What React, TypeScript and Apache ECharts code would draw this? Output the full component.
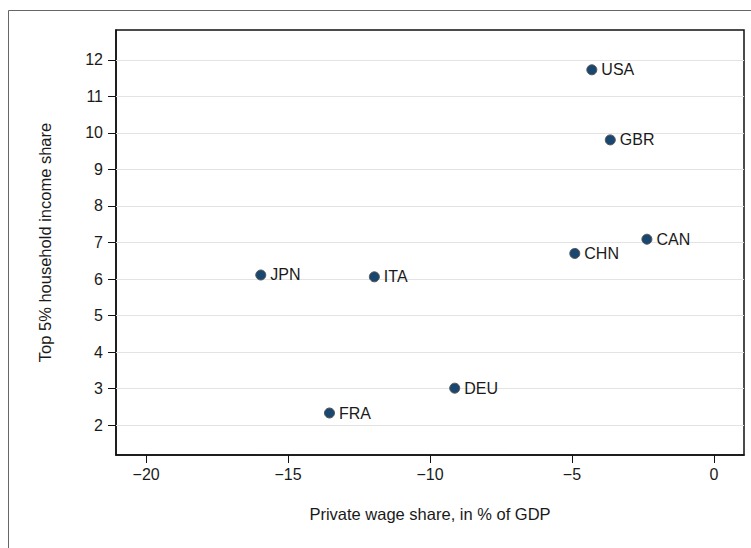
import React, { useEffect, useRef } from "react";
import * as echarts from "echarts";

const countries = ["USA", "GBR", "CAN", "CHN", "JPN", "ITA", "DEU", "FRA"];
const wageShare = [-4.3, -3.65, -2.36, -4.9, -15.96, -11.96, -9.13, -13.54];
const top5Share = [11.73, 9.81, 7.09, 6.7, 6.11, 6.06, 3.01, 2.33];
const xTicks = [-20, -15, -10, -5, 0];
const yTicks = [2, 3, 4, 5, 6, 7, 8, 9, 10, 11, 12];

const FONT = "'Liberation Sans', Arial, Helvetica, sans-serif";
const FS = 16;

export default function App() {
  const ref = useRef<HTMLDivElement>(null);
  useEffect(() => {
    if (!ref.current) return;
    const chart = echarts.init(ref.current, undefined, { renderer: "svg" });
    const data = countries.map((c, i) => ({ name: c, value: [wageShare[i], top5Share[i]] }));
    chart.setOption({
      animation: false,
      backgroundColor: "#fff",
      textStyle: { fontFamily: FONT },
      graphic: [
        {
          type: "rect",
          shape: { x: 8.5, y: 10.5, width: 900, height: 700 },
          style: { fill: "none", stroke: "#666", lineWidth: 1 },
          silent: true,
          z: -10,
        },
      ],
      grid: {
        left: 116,
        top: 30,
        right: 7,
        bottom: 93,
        show: true,
        borderColor: "#111",
        borderWidth: 1.5,
        backgroundColor: "transparent",
      },
      xAxis: {
        type: "value",
        min: -21.06,
        max: 1.06,
        interval: 5,
        name: "Private wage share, in % of GDP",
        nameLocation: "middle",
        nameGap: 50,
        nameTextStyle: { fontSize: 16.5, color: "#1a1a1a", fontFamily: FONT },
        axisLine: { show: true, onZero: false, lineStyle: { color: "#111", width: 1.5 } },
        axisTick: {
          show: true,
          length: 8,
          lineStyle: { color: "#111" },
          customValues: xTicks,
        },
        axisLabel: {
          fontSize: FS,
          color: "#1a1a1a",
          margin: 11,
          fontFamily: FONT,
          customValues: xTicks,
          formatter: (v: number) => (v < 0 ? "\u2212" + Math.abs(v) : String(v)),
        },
        splitLine: { show: false },
      },
      yAxis: {
        type: "value",
        min: 1.18,
        max: 12.82,
        name: "Top 5% household income share",
        nameLocation: "middle",
        nameGap: 63,
        nameTextStyle: { fontSize: 16.5, color: "#1a1a1a", fontFamily: FONT },
        axisLine: { show: true, onZero: false, lineStyle: { color: "#111", width: 1.5 } },
        axisTick: {
          show: true,
          length: 8,
          lineStyle: { color: "#111" },
          customValues: yTicks,
        },
        axisLabel: {
          fontSize: FS,
          color: "#1a1a1a",
          margin: 13,
          fontFamily: FONT,
          customValues: yTicks,
        },
        splitLine: { show: false },
      },
      series: [
        {
          type: "line",
          data: yTicks.map((v) => [-21.06, v]),
          symbol: "none",
          silent: true,
          lineStyle: { width: 0 },
          z: 1,
          markLine: {
            silent: true,
            symbol: "none",
            z: 1,
            label: { show: false },
            lineStyle: { color: "#e3e3e3", width: 1, type: "solid" },
            data: yTicks.map((v) => ({ yAxis: v })),
          },
        },
        {
          type: "scatter",
          data,
          symbolSize: 10,
          itemStyle: { color: "#1a476f", borderColor: "#555", borderWidth: 1, opacity: 1 },
          label: {
            show: true,
            position: "right",
            distance: 4,
            formatter: "{b}",
            fontSize: FS,
            color: "#1a1a1a",
            fontFamily: FONT,
          },
          z: 10,
        },
      ],
    });
    return () => chart.dispose();
  }, []);
  return (
    <div
      ref={ref}
      style={{ position: "fixed", left: 0, top: 0, width: 751, height: 548, background: "#fff" }}
    />
  );
}
